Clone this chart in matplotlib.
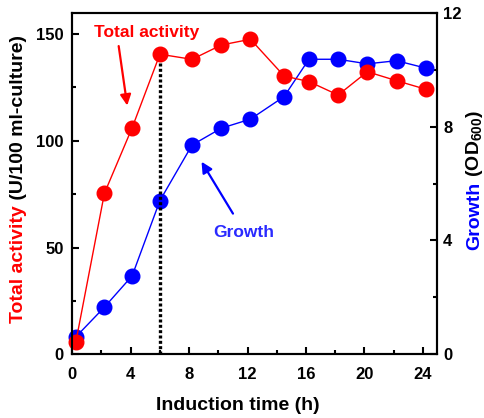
import matplotlib
matplotlib.use("Agg")
import matplotlib.pyplot as plt
from matplotlib.ticker import MultipleLocator

plt.rcParams["font.family"] = ["Liberation Sans", "DejaVu Sans"]
plt.rcParams["font.weight"] = "bold"
plt.rcParams["mathtext.fontset"] = "custom"
plt.rcParams["mathtext.rm"] = "Liberation Sans:bold"
plt.rcParams["mathtext.bf"] = "Liberation Sans:bold"
plt.rcParams["mathtext.default"] = "bf"

# data
time_h = [0.25, 2.2, 4.1, 6.0, 8.2, 10.2, 12.2, 14.5, 16.2, 18.2, 20.2, 22.2, 24.2]
total_activity = [6.0, 75.4, 106.1, 140.5, 138.1, 144.8, 147.5, 130.3, 127.7, 121.4, 132.3, 128.1, 124.1]
growth_od600 = [0.62, 1.66, 2.76, 5.40, 7.35, 7.94, 8.26, 9.05, 10.36, 10.36, 10.20, 10.31, 10.05]

x_ticks = [0, 4, 8, 12, 16, 20, 24]
left_ticks = [0, 50, 100, 150]
right_ticks = [0, 4, 8, 12]

RED = "#ff0000"
BLUE = "#0000ff"

fig = plt.figure(figsize=(4.85, 4.18), dpi=100)
ax = fig.add_axes([0.149, 0.152, 0.753, 0.818])
ax2 = ax.twinx()
# red series sits above the blue one
ax.set_zorder(ax2.get_zorder() + 1)
ax.patch.set_visible(False)

ax2.plot(time_h, growth_od600, "-o", color=BLUE, lw=1, ms=10.5, clip_on=False)
ax.plot(time_h, total_activity, "-o", color=RED, lw=1, ms=10.5, clip_on=False)

# dotted marker at 6 h
ax.plot([time_h[3], time_h[3]], [0, total_activity[3]], color="black",
        lw=2.4, linestyle=(0, (0.9, 0.7)), zorder=1)

ax.set_xlim(0, 25)
ax.set_ylim(0, 160)
ax2.set_ylim(0, 12)

ax.set_xticks(x_ticks)
ax.xaxis.set_minor_locator(MultipleLocator(2))
ax.set_yticks(left_ticks)
ax.yaxis.set_minor_locator(MultipleLocator(25))
ax2.set_yticks(right_ticks)
ax2.yaxis.set_minor_locator(MultipleLocator(2))

for a in (ax, ax2):
    for s in a.spines.values():
        s.set_linewidth(1.5)
ax.tick_params(axis="both", which="both", direction="in", width=1.5,
               labelsize=12, top=False, right=False)
ax.tick_params(which="major", length=5)
ax.tick_params(which="minor", length=3)
ax.tick_params(axis="y", pad=6)
ax.tick_params(axis="x", pad=9)
ax2.tick_params(axis="y", which="both", direction="in", width=1.5,
                labelsize=12, pad=4)
ax2.tick_params(which="major", length=5)
ax2.tick_params(which="minor", length=3)
for lab in ax.get_xticklabels() + ax.get_yticklabels() + ax2.get_yticklabels():
    lab.set_fontweight("bold")

ax.set_xlabel("Induction time (h)", fontsize=14, fontweight="bold", x=0.454, labelpad=11)

# two-colour axis labels
t1 = fig.text(0.038, 0.228, "Total activity", rotation=90, color=RED,
              fontsize=14, fontweight="bold", ha="center", va="bottom")
ax.annotate(" (U/100 ml-culture)", xy=(0.5, 1), xycoords=t1, rotation=90,
            ha="center", va="bottom", fontsize=14, fontweight="bold", color="black",
            annotation_clip=False)
t2 = fig.text(0.978, 0.402, "Growth", rotation=90, color=BLUE,
              fontsize=14, fontweight="bold", ha="center", va="bottom")
ax.annotate(" (OD$_{600}$)", xy=(0.5, 1), xycoords=t2, rotation=90,
            ha="center", va="bottom", fontsize=14, fontweight="bold", color="black",
            annotation_clip=False)

# in-plot labels with arrows
ax.text(5.1, 150.5, "Total activity", color=RED, fontsize=12.5, fontweight="bold",
        ha="center", va="center")
ax.annotate("", xy=(3.79, 115.2), xytext=(3.15, 145.6),
            arrowprops=dict(arrowstyle="-|>", color=RED, lw=1.6, mutation_scale=16))
ax.text(11.71, 57.0, "Growth", color="#2a2aff", fontsize=12.5, fontweight="bold",
        ha="center", va="center")
ax.annotate("", xy=(8.75, 91.3), xytext=(11.1, 64.8),
            arrowprops=dict(arrowstyle="-|>", color=BLUE, lw=1.6, mutation_scale=16))

plt.savefig("out.png", dpi=100)
plt.close()
